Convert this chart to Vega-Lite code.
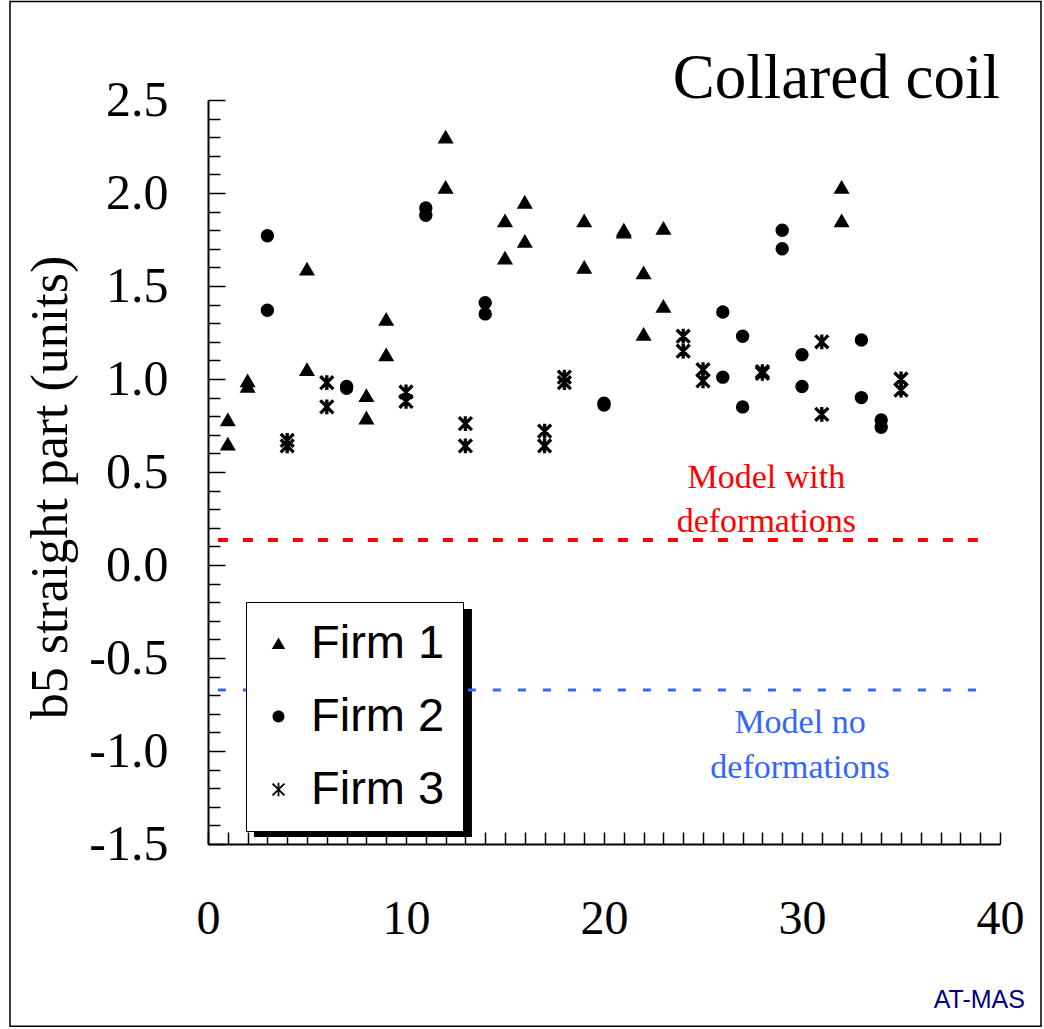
{
  "$schema": "https://vega.github.io/schema/vega-lite/v6.json",
  "width": 792,
  "height": 744,
  "autosize": {"type": "none"},
  "padding": {"left": 208, "top": 100, "right": 44, "bottom": 185},
  "background": "white",
  "config": {
    "view": {"stroke": null},
    "axis": {"domainColor": "black", "tickColor": "black", "labelColor": "black", "titleColor": "black", "labelFont": "Liberation Serif", "titleFont": "Liberation Serif", "grid": false, "domainWidth": 2, "tickWidth": 1.5}
  },
  "layer": [
    {
      "data": {"values": [{}]},
      "mark": {"type": "rect", "filled": false, "color": "black", "strokeWidth": 1.5},
      "encoding": {
        "x": {"datum": -10, "type": "quantitative", "scale": {"domain": [0, 40], "nice": false, "zero": false}},
        "x2": {"datum": 42.07},
        "y": {"datum": 3.03, "type": "quantitative", "scale": {"domain": [-1.5, 2.5], "nice": false, "zero": false}},
        "y2": {"datum": -2.48}
      }
    },
    {
      "data": {"values": [{}]},
      "mark": {"type": "rect", "color": "black"},
      "encoding": {
        "x": {"datum": 2.32, "type": "quantitative", "scale": {"domain": [0, 40], "nice": false, "zero": false}},
        "x2": {"datum": 13.33},
        "y": {"datum": -0.237, "type": "quantitative", "scale": {"domain": [-1.5, 2.5], "nice": false, "zero": false}},
        "y2": {"datum": -1.462}
      }
    },
    {
      "data": {"values": [{}]},
      "mark": {"type": "rule", "color": "#FF0000", "strokeWidth": 4, "strokeDash": [10, 15]},
      "encoding": {
        "x": {"datum": 0.5, "type": "quantitative", "scale": {"domain": [0, 40], "nice": false, "zero": false}},
        "x2": {"datum": 39.5},
        "y": {"datum": 0.135, "type": "quantitative", "scale": {"domain": [-1.5, 2.5], "nice": false, "zero": false}}
      }
    },
    {
      "data": {"values": [{}]},
      "mark": {"type": "rule", "color": "#3366FF", "strokeWidth": 3, "strokeDash": [8, 17]},
      "encoding": {
        "x": {"datum": 0.5, "type": "quantitative", "scale": {"domain": [0, 40], "nice": false, "zero": false}},
        "x2": {"datum": 39.5},
        "y": {"datum": -0.672, "type": "quantitative", "scale": {"domain": [-1.5, 2.5], "nice": false, "zero": false}}
      }
    },
    {
      "data": {"values": [{}]},
      "mark": {"type": "text", "text": ["Model with", "deformations"], "font": "Liberation Serif", "fontSize": 34, "lineHeight": 44, "color": "#FF0000", "align": "center", "baseline": "alphabetic"},
      "encoding": {
        "x": {"datum": 28.2, "type": "quantitative", "scale": {"domain": [0, 40], "nice": false, "zero": false}},
        "y": {"datum": 0.414, "type": "quantitative", "scale": {"domain": [-1.5, 2.5], "nice": false, "zero": false}}
      }
    },
    {
      "data": {"values": [{}]},
      "mark": {"type": "text", "text": ["Model no", "deformations"], "font": "Liberation Serif", "fontSize": 34, "lineHeight": 45, "color": "#3366FF", "align": "center", "baseline": "alphabetic"},
      "encoding": {
        "x": {"datum": 29.9, "type": "quantitative", "scale": {"domain": [0, 40], "nice": false, "zero": false}},
        "y": {"datum": -0.903, "type": "quantitative", "scale": {"domain": [-1.5, 2.5], "nice": false, "zero": false}}
      }
    },
    {
      "data": {"values": [{}]},
      "mark": {"type": "text", "text": "Collared coil", "font": "Liberation Serif", "fontSize": 63, "color": "black", "align": "right", "baseline": "alphabetic"},
      "encoding": {
        "x": {"datum": 40, "type": "quantitative", "scale": {"domain": [0, 40], "nice": false, "zero": false}},
        "y": {"datum": 2.511, "type": "quantitative", "scale": {"domain": [-1.5, 2.5], "nice": false, "zero": false}}
      }
    },
    {
      "data": {"values": [{}]},
      "mark": {"type": "text", "text": "AT-MAS", "font": "Liberation Sans", "fontSize": 25, "color": "#000080", "align": "right", "baseline": "alphabetic"},
      "encoding": {
        "x": {"datum": 41.26, "type": "quantitative", "scale": {"domain": [0, 40], "nice": false, "zero": false}},
        "y": {"datum": -2.38, "type": "quantitative", "scale": {"domain": [-1.5, 2.5], "nice": false, "zero": false}}
      }
    },
    {
      "data": {"values": [
        {"n": 1, "b5": 0.78, "firm": "Firm 1"}, {"n": 1, "b5": 0.65, "firm": "Firm 1"},
        {"n": 2, "b5": 0.99, "firm": "Firm 1"}, {"n": 2, "b5": 0.96, "firm": "Firm 1"},
        {"n": 5, "b5": 1.59, "firm": "Firm 1"}, {"n": 5, "b5": 1.05, "firm": "Firm 1"},
        {"n": 8, "b5": 0.91, "firm": "Firm 1"}, {"n": 8, "b5": 0.79, "firm": "Firm 1"},
        {"n": 9, "b5": 1.32, "firm": "Firm 1"}, {"n": 9, "b5": 1.13, "firm": "Firm 1"},
        {"n": 12, "b5": 2.30, "firm": "Firm 1"}, {"n": 12, "b5": 2.03, "firm": "Firm 1"},
        {"n": 15, "b5": 1.85, "firm": "Firm 1"}, {"n": 15, "b5": 1.65, "firm": "Firm 1"},
        {"n": 16, "b5": 1.95, "firm": "Firm 1"}, {"n": 16, "b5": 1.74, "firm": "Firm 1"},
        {"n": 19, "b5": 1.85, "firm": "Firm 1"}, {"n": 19, "b5": 1.60, "firm": "Firm 1"},
        {"n": 21, "b5": 1.80, "firm": "Firm 1"}, {"n": 21, "b5": 1.79, "firm": "Firm 1"},
        {"n": 22, "b5": 1.57, "firm": "Firm 1"}, {"n": 22, "b5": 1.24, "firm": "Firm 1"},
        {"n": 23, "b5": 1.81, "firm": "Firm 1"}, {"n": 23, "b5": 1.39, "firm": "Firm 1"},
        {"n": 32, "b5": 2.03, "firm": "Firm 1"}, {"n": 32, "b5": 1.85, "firm": "Firm 1"},
        {"n": 3, "b5": 1.77, "firm": "Firm 2"}, {"n": 3, "b5": 1.37, "firm": "Firm 2"},
        {"n": 7, "b5": 0.96, "firm": "Firm 2"}, {"n": 7, "b5": 0.95, "firm": "Firm 2"},
        {"n": 11, "b5": 1.92, "firm": "Firm 2"}, {"n": 11, "b5": 1.88, "firm": "Firm 2"},
        {"n": 14, "b5": 1.41, "firm": "Firm 2"}, {"n": 14, "b5": 1.35, "firm": "Firm 2"},
        {"n": 20, "b5": 0.87, "firm": "Firm 2"}, {"n": 20, "b5": 0.86, "firm": "Firm 2"},
        {"n": 26, "b5": 1.36, "firm": "Firm 2"}, {"n": 26, "b5": 1.01, "firm": "Firm 2"},
        {"n": 27, "b5": 1.23, "firm": "Firm 2"}, {"n": 27, "b5": 0.85, "firm": "Firm 2"},
        {"n": 29, "b5": 1.80, "firm": "Firm 2"}, {"n": 29, "b5": 1.70, "firm": "Firm 2"},
        {"n": 30, "b5": 1.13, "firm": "Firm 2"}, {"n": 30, "b5": 0.96, "firm": "Firm 2"},
        {"n": 33, "b5": 1.21, "firm": "Firm 2"}, {"n": 33, "b5": 0.90, "firm": "Firm 2"},
        {"n": 34, "b5": 0.78, "firm": "Firm 2"}, {"n": 34, "b5": 0.74, "firm": "Firm 2"},
        {"n": 4, "b5": 0.67, "firm": "Firm 3"}, {"n": 4, "b5": 0.64, "firm": "Firm 3"},
        {"n": 6, "b5": 0.98, "firm": "Firm 3"}, {"n": 6, "b5": 0.85, "firm": "Firm 3"},
        {"n": 10, "b5": 0.93, "firm": "Firm 3"}, {"n": 10, "b5": 0.88, "firm": "Firm 3"},
        {"n": 13, "b5": 0.76, "firm": "Firm 3"}, {"n": 13, "b5": 0.64, "firm": "Firm 3"},
        {"n": 17, "b5": 0.72, "firm": "Firm 3"}, {"n": 17, "b5": 0.64, "firm": "Firm 3"},
        {"n": 18, "b5": 1.01, "firm": "Firm 3"}, {"n": 18, "b5": 0.98, "firm": "Firm 3"},
        {"n": 24, "b5": 1.23, "firm": "Firm 3"}, {"n": 24, "b5": 1.15, "firm": "Firm 3"},
        {"n": 25, "b5": 1.05, "firm": "Firm 3"}, {"n": 25, "b5": 0.99, "firm": "Firm 3"},
        {"n": 28, "b5": 1.04, "firm": "Firm 3"}, {"n": 28, "b5": 1.03, "firm": "Firm 3"},
        {"n": 31, "b5": 1.20, "firm": "Firm 3"}, {"n": 31, "b5": 0.81, "firm": "Firm 3"},
        {"n": 35, "b5": 1.00, "firm": "Firm 3"}, {"n": 35, "b5": 0.94, "firm": "Firm 3"}
      ]},
      "mark": {"type": "point", "filled": true, "fill": "black", "stroke": "black", "strokeWidth": 1.5, "opacity": 1, "size": 196},
      "encoding": {
        "x": {
          "field": "n", "type": "quantitative",
          "scale": {"domain": [0, 40], "nice": false, "zero": false},
          "axis": {
            "title": null,
            "values": [0,1,2,3,4,5,6,7,8,9,10,11,12,13,14,15,16,17,18,19,20,21,22,23,24,25,26,27,28,29,30,31,32,33,34,35,36,37,38,39,40],
            "tickCount": 41,
            "labelExpr": "datum.value % 10 === 0 ? datum.label : ''",
            "tickSize": -12,
            "labelPadding": 63,
            "labelFontSize": 48,
            "labelFlush": false,
            "labelOverlap": false
          }
        },
        "y": {
          "field": "b5", "type": "quantitative",
          "scale": {"domain": [-1.5, 2.5], "nice": false, "zero": false},
          "axis": {
            "title": "b5 straight part (units)",
            "titleFontSize": 52,
            "titleFontWeight": "normal",
            "titleX": -142,
            "titleY": 387,
            "titleAngle": -90,
            "titleAlign": "center",
            "titleBaseline": "alphabetic",
            "values": [-1.5,-1.4,-1.3,-1.2,-1.1,-1.0,-0.9,-0.8,-0.7,-0.6,-0.5,-0.4,-0.3,-0.2,-0.1,0,0.1,0.2,0.3,0.4,0.5,0.6,0.7,0.8,0.9,1.0,1.1,1.2,1.3,1.4,1.5,1.6,1.7,1.8,1.9,2.0,2.1,2.2,2.3,2.4,2.5],
            "tickCount": 41,
            "labelExpr": "round(datum.value*10) % 5 === 0 ? (datum.value < 0 ? '-' + format(-datum.value, '.1f') : format(datum.value, '.1f')) : ''",
            "tickSize": {"condition": {"test": "round(datum.value*10) % 5 === 0", "value": -17}, "value": -12},
            "labelPadding": 57,
            "labelFontSize": 50,
            "labelFlush": false,
            "labelOverlap": false
          }
        },
        "shape": {
          "field": "firm", "type": "nominal",
          "scale": {
            "domain": ["Firm 1", "Firm 2", "Firm 3"],
            "range": [
              "M0,-0.85L0.96,0.8L-0.96,0.8Z",
              "M-0.85,0A0.85,0.85,0,1,0,0.85,0A0.85,0.85,0,1,0,-0.85,0Z",
              "M-0.13,-0.95L0.13,-0.95L0.13,0.95L-0.13,0.95ZM-0.758,-0.942L0.942,0.758L0.758,0.942L-0.942,-0.758ZM-0.942,0.758L0.758,-0.942L0.942,-0.758L-0.758,0.942Z"
            ]
          },
          "legend": {
            "title": null,
            "orient": "none",
            "legendX": 38,
            "legendY": 502,
            "fillColor": "white",
            "strokeColor": "black",
            "padding": 18,
            "labelFont": "Liberation Sans",
            "labelFontSize": 47,
            "labelColor": "black",
            "labelLimit": 300,
            "symbolSize": 196,
            "symbolFillColor": "black",
            "symbolStrokeColor": "black",
            "symbolStrokeWidth": 1.5,
            "symbolOffset": -9,
            "labelOffset": 9,
            "rowPadding": 25
          }
        }
      }
    }
  ]
}
